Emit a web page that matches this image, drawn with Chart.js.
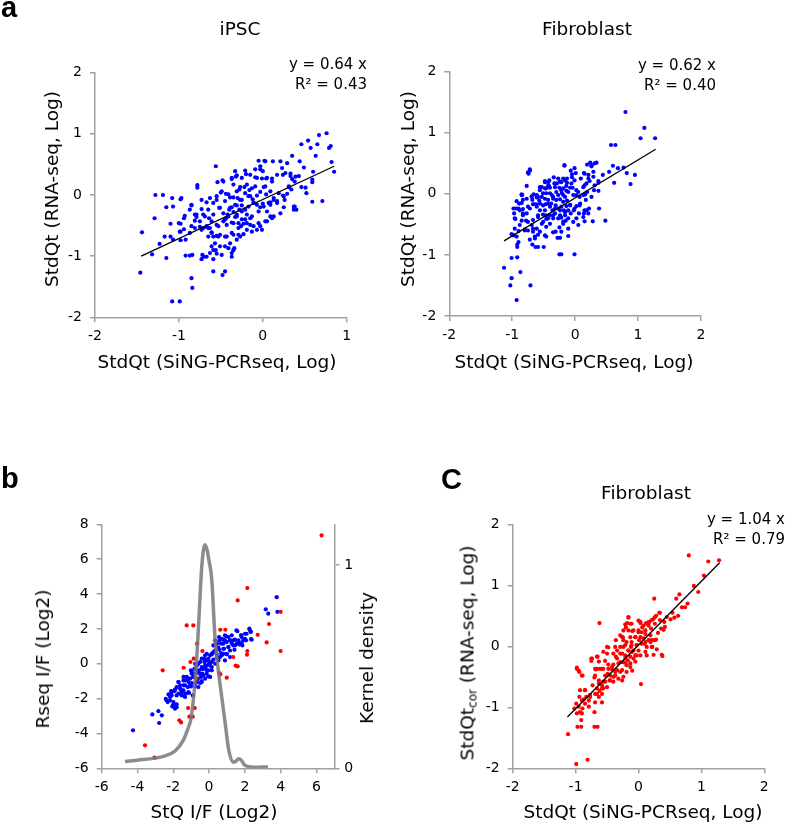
<!DOCTYPE html>
<html>
<head>
<meta charset="utf-8">
<script src="https://cdn.jsdelivr.net/npm/chart.js@4.4.1/dist/chart.umd.min.js"></script>
<style>
  body { margin: 0; background: #fff; }
  #fig { position: relative; width: 787px; height: 825px; overflow: hidden;
         font-family: 'DejaVu Sans', Verdana, sans-serif; color: #000; }
  canvas { position: absolute; }
  .lbl { position: absolute; white-space: nowrap; font-size: 18.5px; line-height: 22px;
         transform: translate(-50%, -50%); }
  .lbl.vert { transform: translate(-50%, -50%) rotate(-90deg); }
  .eq { position: absolute; white-space: nowrap; font-size: 15px; line-height: 20px; text-align: right; }
  .letter { position: absolute; font-family: 'Liberation Sans', Arial, sans-serif;
            font-weight: bold; font-size: 29px; line-height: 29px; }
  sub { font-size: 12px; vertical-align: -3px; }
</style>
</head>
<body>
<div id="fig">
  <canvas id="ipsc" width="390" height="400" style="left:0;top:0"></canvas>
  <canvas id="fibro" width="397" height="400" style="left:390px;top:0"></canvas>
  <canvas id="ratio" width="390" height="395" style="left:0;top:430px"></canvas>
  <canvas id="cor" width="397" height="395" style="left:390px;top:430px"></canvas>

  <div class="letter" style="left:1px;top:-7px">a</div>
  <div class="letter" style="left:1px;top:464px">b</div>
  <div class="letter" style="left:441px;top:465px">C</div>

  <div class="lbl" style="left:240px;top:29px">iPSC</div>
  <div class="lbl" style="left:587px;top:28.5px">Fibroblast</div>
  <div class="lbl" style="left:646px;top:492.5px">Fibroblast</div>

  <div class="eq" style="right:420px;top:54px">y = 0.64 x<br>R² = 0.43</div>
  <div class="eq" style="right:71px;top:55px">y = 0.62 x<br>R² = 0.40</div>
  <div class="eq" style="right:2px;top:509px">y = 1.04 x<br>R² = 0.79</div>

  <div class="lbl vert" style="left:51.7px;top:188.5px">StdQt (RNA-seq, Log)</div>
  <div class="lbl" style="left:217px;top:361.5px">StdQt (SiNG-PCRseq, Log)</div>
  <div class="lbl vert" style="left:407.5px;top:189px">StdQt (RNA-seq, Log)</div>
  <div class="lbl" style="left:574px;top:361.5px">StdQt (SiNG-PCRseq, Log)</div>

  <div class="lbl vert" style="left:43.3px;top:658.5px">Rseq I/F (Log2)</div>
  <div class="lbl vert" style="left:366.7px;top:658px">Kernel density</div>
  <div class="lbl" style="left:214px;top:811.5px">StQ I/F (Log2)</div>

  <div class="lbl vert" style="left:470px;top:653px">StdQt<sub>cor</sub> (RNA-seq, Log)</div>
  <div class="lbl" style="left:643px;top:811.5px">StdQt (SiNG-PCRseq, Log)</div>
</div>

<script>
// panel a, iPSC: [SiNG-PCRseq, RNA-seq]
const ipscPoints = [
  [0.76,1.01],[0.67,0.98],[0.54,0.89],[0.46,0.83],[0.65,0.83],[0.57,0.77],[0.81,0.80],[0.79,0.77],
  [0.82,0.54],[0.85,0.38],[0.63,0.64],[0.35,0.64],[0.44,0.55],[0.49,0.45],[0.60,0.38],[0.59,0.25],
  [0.59,0.21],[0.71,-0.10],[0.59,-0.11],[0.38,-0.19],[0.40,-0.24],[0.37,-0.24],[0.51,0.12],[0.46,0.13],
  [0.52,0.03],[0.31,0.13],[0.34,0.09],[0.29,0.02],[0.24,-0.01],[0.26,-0.08],[0.25,-0.20],[0.21,-0.30],
  [0.13,-0.35],[0.09,-0.35],[0.05,-0.27],[0.03,-0.43],[-0.01,-0.57],[-0.07,-0.57],[-0.05,-0.46],[0.24,0.33],
  [0.27,0.36],[0.33,0.35],[0.35,0.26],[0.39,0.30],[0.43,0.31],[0.21,0.55],[0.12,0.55],[0.02,0.56],
  [-0.05,0.56],[-0.03,0.47],[-0.09,0.29],[-0.01,0.27],[0.04,0.27],[0.11,0.27],[0.00,0.39],[-0.21,0.40],
  [-0.20,0.34],[-0.32,0.30],[-0.37,0.26],[-0.27,0.13],[-0.28,0.09],[-0.22,0.13],[-0.13,0.11],[-0.16,0.08],
  [0.01,0.13],[0.04,0.01],[-0.03,0.05],[-0.07,-0.01],[-0.12,-0.07],[-0.17,-0.02],[-0.25,-0.08],[-0.30,-0.05],
  [-0.35,-0.04],[-0.39,-0.04],[-0.44,0.02],[-0.50,0.04],[-0.55,-0.02],[-0.54,0.21],[-0.48,0.24],[-0.56,0.47],
  [-0.63,-0.05],[-0.67,-0.12],[-0.73,-0.08],[-0.78,0.16],[-0.78,0.12],[-0.85,-0.17],[-0.87,-0.24],[-0.81,-0.32],
  [-0.73,-0.23],[-0.69,-0.35],[-0.75,-0.43],[-0.79,-0.36],[-0.93,-0.34],[-0.97,-0.05],[-1.08,-0.05],[-1.15,-0.20],
  [-1.19,0.00],[-1.28,0.00],[-1.29,-0.38],[-1.10,-0.47],[-1.07,-0.19],[-1.10,-0.68],[-1.17,-0.68],[-1.23,-0.80],
  [-1.32,-0.97],[-1.15,-1.03],[-1.44,-0.61],[-1.46,-1.27],[-1.08,-1.74],[-0.99,-1.74],[-0.85,-1.36],[-0.84,-1.52],
  [-0.92,-0.99],[-0.84,-0.98],[-0.98,-0.74],[-1.07,-0.73],[-0.99,-0.60],[-0.98,-0.47],[-0.94,-0.56],[-0.92,-0.73],
  [-0.85,-0.51],[-0.81,-0.42],[-0.75,-0.52],[-0.71,-0.54],[-0.65,-0.54],[-0.61,-0.61],[-0.65,-0.68],[-0.59,-0.68],
  [-0.57,-0.79],[-0.61,-0.84],[-0.51,-0.65],[-0.53,-0.51],[-0.45,-0.40],[-0.42,-0.32],[-0.44,-0.38],[-0.43,-0.49],
  [-0.37,-0.45],[-0.33,-0.36],[-0.31,-0.32],[-0.29,-0.46],[-0.26,-0.51],[-0.35,-0.65],[-0.29,-0.65],[-0.27,-0.68],
  [-0.43,-0.68],[-0.51,-0.84],[-0.56,-0.90],[-0.63,-0.95],[-0.55,-0.96],[-0.45,-0.84],[-0.41,-0.87],[-0.37,-0.95],
  [-0.35,-0.90],[-0.34,-0.87],[-0.49,-0.98],[-0.59,-1.05],[-0.45,-1.25],[-0.48,-1.31],[-0.59,-1.25],[-0.72,-0.98],
  [-0.70,-1.01],[-0.73,-1.05],[-0.87,-0.99],[-0.21,-0.24],[-0.19,-0.32],[-0.15,-0.38],[-0.21,-0.40],[-0.23,-0.47],
  [-0.19,-0.57],[-0.15,-0.49],[-0.11,-0.51],[-0.13,-0.60],[-0.28,-0.24],[-0.25,-0.17],[-0.31,-0.17],[-0.37,-0.20],
  [-0.40,-0.24],[-0.35,-0.28],[-0.11,-0.13],[-0.07,-0.16],[-0.03,-0.20],[0.00,-0.14],[0.09,-0.16],[0.13,-0.08],
  [0.09,-0.12],[0.17,-0.10],[-0.52,-0.21],[-0.59,-0.32],[-0.47,-0.30],[-0.55,-0.67],[-0.64,-0.38],[-0.67,-0.52],
  [-0.63,-0.54],
  [-0.98,-0.07],[-0.85,-0.16],[-0.79,-0.32],[-0.94,-0.38],[-1.00,-0.46],[-0.98,-0.60],[-0.87,-0.62],[-0.81,-0.54],
  [-0.73,-0.57],[-0.67,-0.51],[-0.61,-0.43],[-0.71,-0.32],[-0.65,-0.24],[-0.59,-0.13],[-0.55,-0.08],[-0.49,0.06],
  [-0.47,0.22],[-0.37,0.28],[-0.31,0.32],[-0.35,0.17],[-0.31,0.06],[-0.41,0.01],[-0.45,-0.10],[-0.51,-0.21],
  [-0.39,-0.21],[-0.33,-0.16],[-0.27,-0.08],[-0.21,0.03],[-0.19,0.17],[-0.25,0.28],[-0.15,0.33],[-0.07,0.28],
  [-0.03,0.42],[-0.09,0.14],[-0.15,-0.02],[-0.11,-0.13],[-0.17,-0.19],[-0.25,-0.27],[-0.31,-0.35],[-0.25,-0.40],
  [-0.35,-0.46],[-0.29,-0.54],[-0.37,-0.62],[-0.45,-0.68],[-0.53,-0.68],[-0.61,-0.62],[-0.55,-0.49],[-0.47,-0.43],
  [-0.41,-0.35],[-0.19,-0.46],[-0.23,-0.64],[-0.31,-0.73],[-0.39,-0.79],[-0.59,-0.90],[-0.67,-1.01],[-0.35,-0.90],
  [-0.37,-1.01],[-0.13,-0.35],[-0.05,-0.27],[0.01,-0.19],[0.07,-0.13],[0.13,-0.05],[0.19,0.03],[0.09,0.06],
  [0.03,0.14],[0.05,0.28],[0.11,0.22],[0.17,0.33],[0.23,0.44],[0.29,0.52],[0.03,0.55],[0.33,0.31],
  [0.38,0.22],[0.31,0.14],[0.25,-0.02],[0.17,-0.13],[0.11,-0.38],[0.05,-0.43],[-0.03,-0.51],[0.37,-0.19],
  [-0.33,0.39],[-0.09,0.42]
];
const ipscFit = [[-1.45,-1.00],[0.85,0.47]];

// panel a, Fibroblast
const fibroPoints = [
  [0.80,1.34],[1.10,1.08],[1.04,0.91],[1.27,0.91],[0.57,0.80],[0.64,0.80],[0.77,0.43],[0.68,0.42],
  [0.95,0.31],[0.62,0.18],[0.88,0.16],[0.82,0.34],[0.60,0.46],[0.54,0.36],[0.44,0.31],[0.37,0.21],
  [0.48,-0.44],[0.38,-0.24],[0.28,-0.45],[0.15,-0.45],[0.34,0.51],[0.24,0.51],[0.26,0.45],[0.19,0.48],
  [0.14,0.34],[0.21,0.31],[0.23,0.21],[0.15,0.14],[0.19,0.03],[0.16,-0.01],[0.17,-0.10],[0.22,-0.24],
  [0.08,-0.16],[0.07,-0.05],[0.02,0.06],[-0.01,0.22],[0.01,0.34],[-0.05,0.27],[-0.07,0.38],[-0.17,0.46],
  [-0.13,0.18],[-0.08,0.10],[-0.14,0.05],[-0.19,0.09],[-0.22,0.06],[-0.24,0.20],[-0.29,0.17],[-0.32,0.11],
  [-0.25,0.10],[-0.16,-0.05],[-0.13,-0.11],[-0.08,-0.18],[-0.11,-0.27],[-0.16,-0.35],[-0.22,-0.39],[-0.15,-0.44],
  [-0.19,-0.49],[-0.25,-0.55],[-0.31,-0.62],[-0.28,-0.72],[-0.24,-0.72],[-0.11,-0.69],[-0.01,-0.99],[-0.22,-0.99],
  [-0.25,-0.99],[-0.32,-0.32],[-0.36,-0.27],[-0.40,-0.21],[-0.43,-0.10],[-0.46,0.01],[-0.43,0.13],[-0.48,0.19],
  [-0.42,0.14],[-0.37,-0.02],[-0.38,-0.16],[-0.35,-0.40],[-0.40,-0.49],[-0.46,-0.54],[-0.46,-0.70],[-0.50,-0.87],
  [-0.59,-0.87],[-0.63,-0.87],[-0.68,-0.83],[-0.64,-0.70],[-0.72,-0.75],[-0.67,-0.62],[-0.61,-0.57],[-0.56,-0.62],
  [-0.53,-0.49],[-0.59,-0.38],[-0.51,-0.34],[-0.56,-0.27],[-0.61,-0.21],[-0.62,-0.17],[-0.67,-0.17],[-0.72,-0.24],
  [-0.77,-0.32],[-0.83,-0.35],[-0.78,-0.44],[-0.85,-0.44],[-0.88,-0.51],[-0.90,-0.61],[-0.93,-0.70],[-0.98,-0.68],
  [-1.01,-0.66],[-0.95,-0.41],[-0.97,-0.32],[-0.94,-0.24],[-0.85,-0.15],[-0.84,-0.02],[-0.85,-0.01],[-0.77,0.13],
  [-0.72,0.38],[-0.74,0.33],[-0.69,-0.04],[-0.68,-0.10],[-0.66,-0.01],[-0.61,-0.06],[-0.57,-0.11],[-0.53,-0.05],
  [-0.51,0.01],[-0.56,0.06],[-0.48,0.09],[-0.40,0.01],[-0.35,-0.05],[-0.30,-0.10],[-0.31,-0.19],[-0.27,-0.24],
  [-0.22,-0.21],[-0.19,-0.13],[-0.24,-0.09],[-0.14,-0.20],[-0.07,-0.32],[-0.02,-0.27],[0.02,-0.20],[0.06,-0.32],
  [0.02,-0.40],[0.14,-0.32],[0.18,-0.27],[0.26,-0.05],[0.30,0.06],[0.37,0.05],[0.31,0.14],[0.13,-0.02],
  [-0.92,-0.87],[-0.92,-0.83],[-1.01,-1.05],[-0.92,-1.04],[-1.13,-1.21],[-1.01,-1.38],[-1.03,-1.50],[-0.87,-1.28],
  [-0.71,-1.50],[-0.93,-1.74],[-0.83,-0.10],[-0.88,-0.27],[-0.89,-0.16],[-0.96,-0.57],[-0.80,-0.58],[-0.75,-0.60],
  [-0.69,-0.51],[-0.46,-0.35],[-0.40,-0.35],[-0.48,-0.27],[-0.47,-0.17],[-0.51,-0.19],[-0.30,0.03],[-0.21,0.01],
  [-0.14,0.13],[-0.06,0.17],[-0.04,0.10],[0.02,-0.02],[0.18,0.17],[0.29,0.28],[0.37,0.18],[0.09,0.25],
  [-0.13,0.25],[-0.19,0.25],[-0.34,0.27],[-0.41,0.22],[-0.56,0.11],[-0.59,-0.05],[-0.46,-0.41],[-0.24,-0.35],
  [-0.18,-0.27],
  [-0.72,0.40],[-0.75,0.35],[-0.17,0.47],[-0.01,0.42],[-0.05,0.32],[-0.16,0.22],[-0.22,0.19],[-0.27,0.25],
  [-0.33,0.17],[-0.43,0.19],[-0.48,0.21],[-0.40,0.10],[-0.46,0.09],[-0.53,0.11],[-0.61,-0.02],[-0.69,-0.05],
  [-0.77,-0.08],[-0.85,-0.02],[-0.93,-0.12],[-0.98,-0.24],[-0.90,-0.24],[-0.83,-0.25],[-0.75,-0.21],[-0.65,-0.17],
  [-0.56,-0.16],[-0.48,-0.08],[-0.43,-0.16],[-0.35,-0.08],[-0.27,-0.02],[-0.19,-0.02],[-0.11,0.03],[-0.03,-0.02],
  [0.05,0.03],[0.13,0.11],[0.21,0.25],[0.29,0.36],[0.26,0.47],[0.31,0.50],[0.15,0.33],[0.07,-0.19],
  [-0.01,-0.24],[-0.08,-0.19],[-0.16,-0.30],[-0.24,-0.27],[-0.32,-0.24],[-0.35,-0.35],[-0.27,-0.40],[-0.19,-0.46],
  [-0.11,-0.40],[-0.03,-0.46],[-0.43,-0.40],[-0.51,-0.46],[-0.59,-0.35],[-0.67,-0.43],[-0.75,-0.46],[-0.83,-0.32],
  [-0.96,-0.40],[-0.80,-0.60],[-0.67,-0.57],[-0.59,-0.67],[-0.48,-0.68],[-0.35,-0.63],[-0.22,-0.62],[-0.11,-0.57],
  [0.05,-0.51],[0.13,-0.38],[0.21,-0.32],[0.15,-0.27],[-0.64,-0.73],[-0.90,-0.79]
];
const fibroFit = [[-1.13,-0.77],[1.28,0.73]];

// panel b: StQ I/F vs Rseq I/F, blue = in range, red = outliers
const ratioBlue = [
  [3.78,3.82],[3.17,3.12],[3.31,2.87],[3.82,2.98],[2.27,1.95],[2.33,1.85],[2.35,1.41],[1.92,1.34],
  [1.79,1.64],[1.53,1.91],[1.68,1.11],[1.42,0.80],[1.17,1.34],[0.89,1.34],[0.71,1.43],[0.34,1.34],
  [0.30,1.05],[0.52,0.92],[0.80,0.86],[1.08,0.96],[1.27,1.15],[1.36,1.34],[1.55,1.15],[0.99,0.54],
  [0.67,0.61],[0.43,0.38],[0.15,0.54],[-0.04,0.29],[0.15,0.10],[-0.11,-0.10],[-0.26,0.10],[-0.41,-0.19],
  [-0.56,-0.38],[-0.37,-0.57],[-0.04,-0.38],[0.06,-0.76],[-0.22,-0.86],[-0.50,-1.11],[-0.63,-0.86],[-0.78,-0.57],
  [-0.97,-0.57],[-0.78,-1.15],[-1.01,-1.30],[-1.15,-1.05],[-1.34,-0.96],[-1.43,-1.24],[-1.71,-1.05],[-1.81,-1.34],
  [-1.94,-1.57],[-1.53,-1.63],[-1.30,-1.72],[-1.71,-1.72],[-2.09,-1.82],[-2.27,-1.76],[-2.42,-2.01],[-2.31,-2.20],
  [-1.99,-2.33],[-1.81,-2.33],[-0.91,-1.82],[-3.17,-2.91],[-2.83,-2.72],[-2.64,-2.96],[-2.79,-3.40],[-4.25,-3.82],
  [0.34,0.76],[-0.22,0.48],[-0.41,0.29],[-0.69,-0.10],[-0.82,-0.29],[-1.01,-0.38],[-1.25,-0.76],[-1.43,-0.76],
  [-1.62,-1.24],[-1.19,-1.34],[-0.60,-1.34],[-0.41,-1.05],[-0.13,-0.57],[0.15,-0.19],[0.34,0.00],[0.52,0.19],
  [0.61,0.38],[0.80,0.57],[0.89,0.19],[1.17,0.76],[1.45,1.05],[1.64,1.34],[1.86,1.05],[2.01,1.43],
  [2.10,1.72],[0.43,1.15],[0.56,1.53],[0.89,1.63],[1.08,1.53],[0.80,1.15],[0.24,0.67],[0.06,0.48],
  [-0.13,0.19],[-0.32,-0.29],[-0.60,-0.48],[-0.88,-0.76],[-1.06,-0.86],[-1.56,-1.49],[-1.90,-1.49],[-2.12,-1.57],
  [-1.43,-1.82],[-1.12,-1.68],[-2.18,-2.10],[-2.05,-2.45],[-1.90,-2.58],[-0.60,0.00],[-0.78,0.00],[0.00,0.00],
  [-0.19,-0.29],[-0.45,-0.76],[-0.69,-1.05],
  [2.25,2.01],[2.33,1.82],[2.01,1.72],[1.82,1.53],[1.58,1.87],[1.27,1.63],[0.95,1.57],[0.80,1.38],
  [0.58,1.34],[0.43,1.15],[0.67,1.15],[0.99,1.24],[1.17,1.34],[1.45,1.38],[1.64,1.24],[1.82,1.19],
  [2.07,1.34],[2.38,1.38],[1.36,1.05],[1.08,0.96],[0.84,0.86],[0.58,0.80],[0.34,0.76],[0.15,0.57],
  [0.43,0.54],[0.71,0.48],[0.99,0.57],[1.17,0.38],[-0.13,0.57],[-0.28,0.29],[-0.04,0.19],[0.24,0.23],
  [0.06,-0.10],[-0.22,-0.10],[-0.50,0.10],[-0.69,-0.10],[-0.41,-0.29],[-0.13,-0.38],[0.15,-0.38],[-0.73,-0.38],
  [-0.97,-0.48],[-0.54,-0.57],[-0.32,-0.67],[-0.04,-0.73],[-0.88,-0.76],[-1.15,-0.86],[-0.65,-0.92],[-0.41,-0.99],
  [-1.43,-0.96],[-1.71,-1.05],[-1.34,-1.24],[-1.06,-1.24],[-0.78,-1.30],[-1.62,-1.43],[-1.90,-1.49],[-2.09,-1.63],
  [-1.43,-1.53],[-1.15,-1.63],[-1.81,-1.82],[-1.53,-1.82],[-2.18,-1.91],[-2.37,-2.10],[-1.99,-2.20],[-2.03,-2.45],
  [-1.81,-2.49],[-1.34,-1.91],[-0.97,-1.11],[0.24,1.05]
];
const ratioRed = [
  [6.29,7.36],[2.14,4.34],[1.60,3.63],[4.00,2.98],[3.35,2.28],[3.22,1.22],[4.00,0.73],[2.72,1.66],
  [2.14,0.73],[2.12,0.52],[1.60,-0.15],[1.49,-0.11],[0.99,-0.80],[0.63,-0.61],[0.58,-0.54],[0.63,1.95],
  [0.91,1.95],[-1.25,2.20],[-0.88,2.20],[-0.67,1.15],[-0.37,0.73],[-0.86,0.29],[-1.04,0.10],[-1.42,-0.23],
  [-2.59,-0.38],[-0.69,-0.86],[-1.17,-2.54],[-0.80,-2.54],[-1.10,-3.04],[-0.91,-3.04],[-1.66,-3.25],[-1.56,-3.37],
  [-3.58,-4.68],[-3.05,-5.39],[1.35,0.38]
];
// kernel density of StQ I/F (right axis)
const kernelX = [-4.7,-4.0,-3.0,-2.5,-1.9,-1.43,-1.2,-1.0,-0.78,-0.63,-0.5,-0.4,-0.3,-0.22,-0.1,0.0,0.15,
                 0.34,0.52,0.71,0.89,1.1,1.35,1.5,1.65,1.8,2.0,2.5,3.3];
const kernelY = [0.033,0.04,0.05,0.06,0.085,0.14,0.19,0.25,0.43,0.63,0.85,1.0,1.08,1.1,1.07,1.02,0.93,
                 0.63,0.48,0.35,0.23,0.09,0.03,0.035,0.047,0.04,0.015,0.005,0.007];

// panel c, corrected Fibroblast
const corPoints = [
  [0.80,1.49],[1.11,1.39],[1.28,1.41],[1.04,1.16],[0.88,0.99],[0.95,0.89],[0.65,0.85],[0.60,0.78],
  [0.25,0.78],[0.78,0.70],[0.74,0.64],[0.69,0.64],[0.63,0.50],[0.54,0.55],[0.57,0.47],[0.51,0.44],
  [0.34,0.55],[0.28,0.50],[0.24,0.45],[0.17,0.40],[0.12,0.38],[0.03,0.38],[-0.16,0.47],[-0.18,0.38],
  [-0.62,0.38],[0.42,0.32],[0.36,0.29],[0.40,0.27],[0.31,0.22],[0.28,0.11],[0.22,0.10],[0.17,0.10],
  [0.22,-0.01],[0.13,-0.01],[0.10,0.04],[0.08,0.13],[0.11,0.20],[0.05,0.23],[0.00,0.26],[-0.10,0.25],
  [-0.05,0.15],[0.01,0.10],[-0.03,0.02],[-0.11,0.07],[-0.12,-0.01],[-0.16,-0.07],[-0.10,-0.09],[0.38,-0.16],
  [0.04,-0.62],[-0.26,0.15],[-0.24,0.10],[-0.21,0.02],[-0.29,-0.01],[-0.34,-0.07],[-0.26,-0.12],[-0.21,-0.19],
  [-0.17,-0.23],[-0.24,-0.26],[-0.32,-0.28],[-0.36,-0.17],[-0.40,-0.12],[-0.48,-0.02],[-0.36,0.10],[-0.50,-0.12],
  [-0.53,-0.24],[-0.58,-0.37],[-0.48,-0.37],[-0.42,-0.34],[-0.37,-0.42],[-0.29,-0.42],[-0.24,-0.50],[-0.10,-0.40],
  [-0.13,-0.34],[-0.19,-0.31],[-0.40,-0.50],[-0.45,-0.56],[-0.53,-0.58],[-0.58,-0.64],[-0.65,-0.37],[-0.69,-0.37],
  [-0.75,-0.20],[-0.75,-0.24],[-0.65,-0.17],[-0.49,-0.45],[-0.63,-0.56],[-0.70,-0.51],[-0.73,-0.64],[-0.62,-0.73],
  [-0.58,-0.78],[-0.56,-0.69],[-0.63,-0.83],[-0.58,-0.92],[-0.69,-0.92],[-0.66,-0.78],[-0.77,-0.83],[-0.85,-0.72],
  [-0.83,-0.83],[-0.90,-0.89],[-0.85,-0.94],[-0.94,-0.83],[-0.98,-0.35],[-0.95,-0.40],[-0.90,-0.48],[-0.79,-0.99],
  [-0.89,-1.02],[-0.93,-1.08],[-0.95,-0.99],[-0.99,-0.94],[-1.02,-1.02],[-0.98,-1.10],[-0.90,-1.10],[-0.91,-1.21],
  [-0.97,-1.32],[-0.91,-1.32],[-0.70,-1.08],[-0.70,-1.32],[-0.65,-1.32],[-1.12,-1.44],[-0.99,-1.93],[-0.81,-1.86],
  [-0.08,-0.20],[0.03,-0.15],[-0.05,-0.15],[0.11,-0.09],[0.16,0.10],[0.20,0.29],[0.16,0.34],[0.06,0.31],
  [0.00,0.42],[-0.20,0.31],[-0.13,0.37],[-0.24,0.26],[-0.29,0.18],
  [0.33,0.55],[0.26,0.48],[0.21,0.43],[0.17,0.40],[0.26,0.37],[0.34,0.43],[0.41,0.40],[0.45,0.48],
  [-0.16,0.48],[-0.21,0.36],[-0.11,0.37],[0.03,0.40],[0.08,0.34],[0.11,0.26],[0.00,0.23],[-0.08,0.26],
  [-0.16,0.26],[-0.13,0.15],[-0.05,0.15],[0.03,0.15],[0.19,0.18],[0.26,0.10],[0.19,0.07],[0.11,0.07],
  [0.05,0.04],[-0.03,0.02],[-0.11,0.02],[-0.19,0.07],[-0.25,0.15],[-0.24,-0.01],[-0.16,-0.07],[-0.08,-0.07],
  [0.00,-0.07],[0.21,-0.01],[0.29,-0.05],[0.37,-0.14],[0.24,-0.14],[0.13,-0.15],[-0.03,-0.15],[-0.13,-0.17],
  [-0.21,-0.15],[-0.29,-0.12],[-0.37,-0.01],[-0.50,-0.01],[-0.56,-0.09],[-0.66,-0.17],[-0.74,-0.20],[-0.63,-0.25],
  [-0.34,-0.20],[-0.29,-0.26],[-0.21,-0.27],[-0.13,-0.28],[-0.05,-0.25],[-0.40,-0.30],[-0.48,-0.30],[-0.56,-0.37],
  [-0.61,-0.37],[-0.68,-0.38],[-0.42,-0.38],[-0.34,-0.39],[-0.26,-0.39],[-0.19,-0.42],[-0.37,-0.48],[-0.45,-0.48],
  [-0.53,-0.48],[-0.46,-0.56],[-0.40,-0.58],[-0.32,-0.53],[-0.26,-0.56],[-0.56,-0.58],[-0.63,-0.61],[-0.69,-0.48],
  [-0.50,-0.67],[-0.58,-0.69],[-0.66,-0.69],[-0.69,-0.78],[-0.77,-0.80],[-0.85,-0.72],[-0.93,-0.72],[-0.87,-0.87],
  [-0.79,-0.89],[-0.98,-0.37],[-0.94,-0.42],[-0.89,-0.48]
];
const corFit = [[-1.13,-1.16],[1.29,1.37]];

const AXIS_GREY = '#a0a0a0';
const xy = arr => arr.map(p => ({ x: p[0], y: p[1] }));

function axis(min, max, step, size, isX, pad) {
  return {
    type: 'linear', min: min, max: max,
    afterFit: s => { if (isX) s.height = size; else s.width = size; },
    ticks: {
      stepSize: step, includeBounds: false, color: '#000', padding: pad,
      font: { family: "'DejaVu Sans', Verdana, sans-serif", size: 14 }
    },
    grid: { drawOnChartArea: false, drawTicks: true, tickLength: 5, color: AXIS_GREY, lineWidth: 1.5 },
    border: { color: AXIS_GREY, width: 1.5 }
  };
}

function dots(points, color) {
  return { data: xy(points), backgroundColor: color, borderWidth: 0, pointRadius: 2.1, pointStyle: 'circle' };
}

function fitLine(points) {
  return { data: xy(points), showLine: true, borderColor: '#000', borderWidth: 1.3, pointRadius: 0 };
}

function baseOptions(padding, scales) {
  return {
    responsive: false, animation: false, events: [],
    layout: { padding: padding },
    plugins: { legend: { display: false }, tooltip: { enabled: false } },
    scales: scales
  };
}

new Chart(document.getElementById('ipsc'), {
  type: 'scatter',
  data: { datasets: [fitLine(ipscFit), dots(ipscPoints, '#0000ff')] },
  options: baseOptions({ top: 72.7, right: 43.3, bottom: 0, left: 0 }, {
    x: axis(-2, 1, 1, 82.7, true, 6),
    y: axis(-2, 2, 1, 95, false, 8)
  })
});

new Chart(document.getElementById('fibro'), {
  type: 'scatter',
  data: { datasets: [fitLine(fibroFit), dots(fibroPoints, '#0000ff')] },
  options: baseOptions({ top: 71.7, right: 86, bottom: 0, left: 0 }, {
    x: axis(-2, 2, 1, 84, true, 6),
    y: axis(-2, 2, 1, 59.3, false, 8)
  })
});

const kernelData = kernelX.map((x, i) => ({ x: x, y: kernelY[i] }));
const y2 = axis(0, 1.2, 1, 55.7, false, 5);
y2.position = 'right';
new Chart(document.getElementById('ratio'), {
  type: 'scatter',
  data: {
    datasets: [
      { data: kernelData, yAxisID: 'y2', showLine: true, borderColor: 'rgba(120,120,120,0.85)',
        borderWidth: 3.5, pointRadius: 0, cubicInterpolationMode: 'monotone' },
      dots(ratioRed, '#ff0000'),
      dots(ratioBlue, '#0000ff')
    ]
  },
  options: baseOptions({ top: 94.3, right: 0, bottom: 0, left: 0 }, {
    x: axis(-6, 7, 2, 56.7, true, 6),
    y: axis(-6, 8, 2, 101.7, false, 8),
    y2: y2
  })
});

new Chart(document.getElementById('cor'), {
  type: 'scatter',
  data: { datasets: [fitLine(corFit), dots(corPoints, '#ff0000')] },
  options: baseOptions({ top: 94.3, right: 22.7, bottom: 0, left: 0 }, {
    x: axis(-2, 2, 1, 56.7, true, 6),
    y: axis(-2, 2, 1, 122.7, false, 8)
  })
});
</script>
</body>
</html>
